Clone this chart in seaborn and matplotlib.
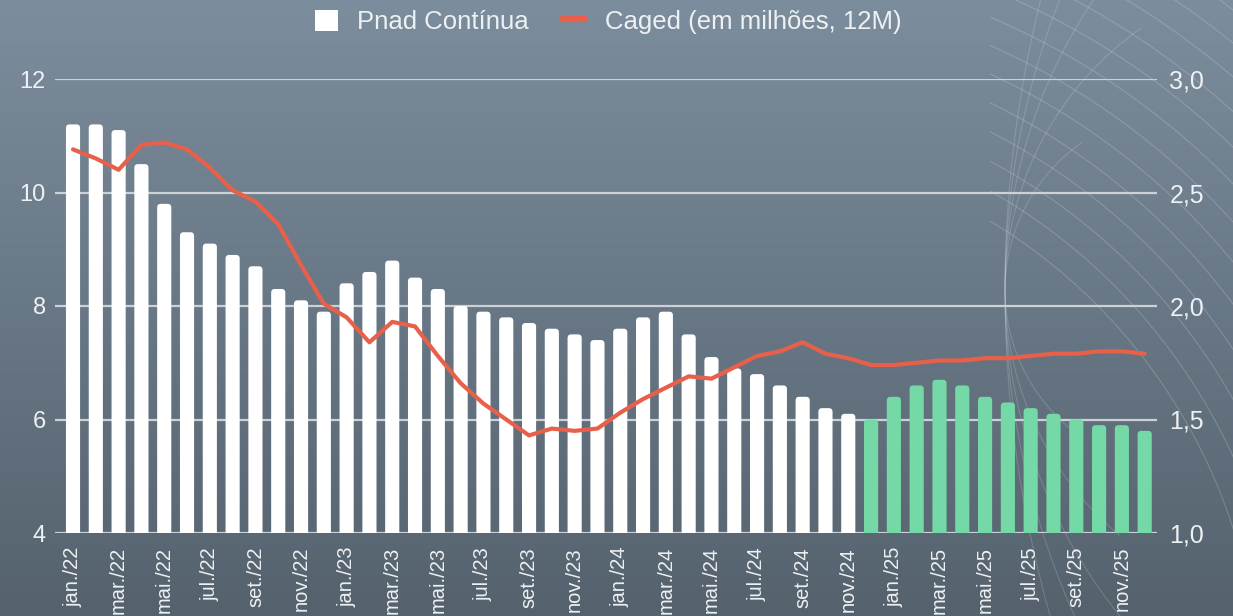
import numpy as np
import pandas as pd
import matplotlib
matplotlib.use("Agg")
import matplotlib.pyplot as plt
import seaborn as sns
from matplotlib.patches import Patch, FancyBboxPatch, Arc
from matplotlib.lines import Line2D

# dados
meses = ['jan.', 'fev.', 'mar.', 'abr.', 'mai.', 'jun.',
         'jul.', 'ago.', 'set.', 'out.', 'nov.', 'dez.']
anos = ['22', '23', '24', '25']
rotulos = [m + '/' + a for a in anos for m in meses]

pnad = [11.2, 11.2, 11.1, 10.5, 9.8, 9.3, 9.1, 8.9, 8.7, 8.3, 8.1, 7.9,
        8.4, 8.6, 8.8, 8.5, 8.3, 8.0, 7.9, 7.8, 7.7, 7.6, 7.5, 7.4,
        7.6, 7.8, 7.9, 7.5, 7.1, 6.9, 6.8, 6.6, 6.4, 6.2, 6.1, 6.0,
        6.4, 6.6, 6.7, 6.6, 6.4, 6.3, 6.2, 6.1, 6.0, 5.9, 5.9, 5.8]

caged = [2.69, 2.65, 2.60, 2.71, 2.72, 2.69, 2.61, 2.51, 2.46, 2.36, 2.18, 2.01,
         1.95, 1.84, 1.93, 1.91, 1.78, 1.66, 1.57, 1.50, 1.43, 1.46, 1.45, 1.46,
         1.53, 1.59, 1.64, 1.69, 1.68, 1.73, 1.78, 1.80, 1.84, 1.79, 1.77, 1.74,
         1.74, 1.75, 1.76, 1.76, 1.77, 1.77, 1.78, 1.79, 1.79, 1.80, 1.80, 1.79]

# ultimos 13 meses em verde
fase = ['real'] * 35 + ['proj'] * 13

df = pd.DataFrame({'mes': rotulos, 'pnad': pnad, 'caged': caged, 'fase': fase})

sns.set_theme(style="white")
plt.rcParams['font.family'] = ['Liberation Sans', 'DejaVu Sans']

txt = '#eef1f3'
verde = '#74d9a6'
laranja = '#e8604a'
grade = '#cdd1d4'

fig = plt.figure(figsize=(12.33, 6.16), dpi=100)

# fundo em degrade
bg = fig.add_axes([0, 0, 1, 1], zorder=-10)
grad = np.linspace(0, 1, 256).reshape(-1, 1)
cmap = matplotlib.colors.LinearSegmentedColormap.from_list('bg', ['#7c8d9d', '#55626e'])
bg.imshow(grad, aspect='auto', cmap=cmap, extent=[0, 1233, 616, 0])
bg.set_xlim(0, 1233)
bg.set_ylim(616, 0)
bg.axis('off')

# linhas decorativas (globo) no canto superior direito
for r in range(560, 900, 26):
    t1 = -np.degrees(np.arccos(min(1, 290 / r)))
    bg.add_patch(Arc((700, 700), 2 * r, 2 * r, theta1=t1, theta2=-5,
                     color='white', alpha=0.18, lw=0.8))
for r in [180, 320, 520, 800, 1200]:
    bg.add_patch(Arc((1005 + r, 290), 2 * r, 2 * r, theta1=130, theta2=235,
                     color='white', alpha=0.16, lw=0.8))
for r in [380, 520]:
    bg.add_patch(Arc((1233 + r * 0.3, 616 + r * 0.95), 2 * r, 2 * r, theta1=190, theta2=250,
                     color='white', alpha=0.18, lw=0.8))
bg.set_xlim(0, 1233)
bg.set_ylim(616, 0)

ax = fig.add_axes([55 / 1233, 1 - 533 / 616, 1102 / 1233, 454 / 616])
ax.set_facecolor('none')

sns.barplot(data=df, x='mes', y='pnad', hue='fase', palette={'real': 'white', 'proj': verde},
            width=0.62, saturation=1, dodge=False, legend=False, ax=ax)

# topo arredondado das barras
for p in list(ax.patches):
    x, y = p.get_x(), p.get_y()
    w, h = p.get_width(), p.get_height()
    fb = FancyBboxPatch((x, y), w, h, boxstyle="round,pad=0,rounding_size=0.16",
                        mutation_aspect=0.4, fc=p.get_facecolor(), ec='none', zorder=2)
    p.remove()
    ax.add_patch(fb)

ax.set_ylim(4, 12)
ax.set_xlim(-0.79, 47.54)
ax.set_yticks([4, 6, 8, 10, 12])
ax.grid(axis='y', color=grade, lw=1.6)
ax.set_axisbelow(True)
ax.set_xticks(range(0, 48, 2))
ax.set_xticklabels(rotulos[::2], rotation=90, fontsize=14.5, color=txt, va='top', ha='center')
ax.tick_params(axis='x', length=0, pad=10)
ax.tick_params(axis='y', length=0, pad=6.5, labelsize=17, labelcolor=txt)
ax.set_xlabel('')
ax.set_ylabel('')
sns.despine(ax=ax, left=True, bottom=True)

ax2 = ax.twinx()
sns.lineplot(x=np.arange(48), y=caged, ax=ax2, color=laranja, lw=3.0)
ax2.set_ylim(1, 3)
ax2.set_xlim(-0.79, 47.54)
ax2.set_yticks([1.0, 1.5, 2.0, 2.5, 3.0])
ax2.set_yticklabels(['1,0', '1,5', '2,0', '2,5', '3,0'])
ax2.tick_params(axis='y', length=0, pad=9, labelsize=18, labelcolor=txt)
ax2.set_ylabel('')
ax2.grid(False)
for s in ax2.spines.values():
    s.set_visible(False)

handles = [Patch(facecolor='white', edgecolor='none'),
           Line2D([0], [0], color=laranja, lw=4.5)]
leg = fig.legend(handles, ['Pnad Contínua', 'Caged (em milhões, 12M)'],
                 loc='center', bbox_to_anchor=(608 / 1233, 1 - 22 / 616), ncol=2,
                 frameon=False, fontsize=18.5, handlelength=0.9, handleheight=0.9,
                 handletextpad=0.75, columnspacing=1.3)
for t in leg.get_texts():
    t.set_color(txt)

plt.savefig('out.png', dpi=100)
